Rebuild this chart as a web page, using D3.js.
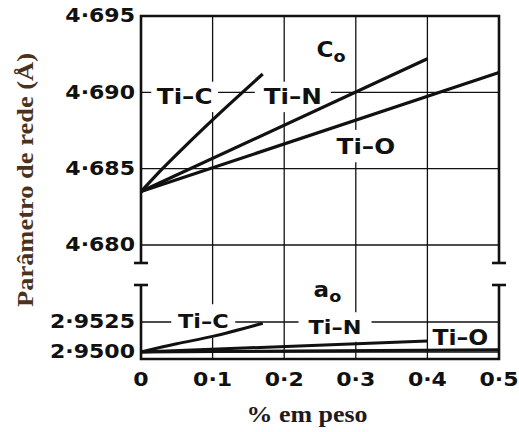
<!DOCTYPE html>
<html>
<head>
<meta charset="utf-8">
<script src="https://cdn.jsdelivr.net/npm/d3@7"></script>
<style>
  body { margin: 0; background: #fff; }
  svg { display: block; }
</style>
</head>
<body>
<div id="chart"></div>
<script>
// x axis: % em peso
const xTicks = [0, 0.1, 0.2, 0.3, 0.4, 0.5];
const xTickLabels = ["0", "0·1", "0·2", "0·3", "0·4", "0·5"];

// upper panel (c0)
const cTicks = [4.680, 4.685, 4.690, 4.695];
const cTickLabels = ["4·680", "4·685", "4·690", "4·695"];
const cTiC = [[0, 4.6835], [0.03, 4.6850], [0.06, 4.6864], [0.1, 4.6882], [0.17, 4.6912]];
const cTiN = [[0, 4.6835], [0.4, 4.6922]];
const cTiO = [[0, 4.6835], [0.5, 4.6913]];

// lower panel (a0)
const aTicks = [2.9500, 2.9525];
const aTickLabels = ["2·9500", "2·9525"];
const aTiC = [[0, 2.9500], [0.05, 2.95068], [0.1, 2.9513], [0.17, 2.9524]];
const aTiN = [[0, 2.9500], [0.4, 2.95092]];
const aTiO = [[0, 2.9500], [0.5, 2.95018]];

const W = 519, H = 432;
const ink = "#111";
const tickFont = "DejaVu Sans, sans-serif";

const svg = d3.select("#chart").append("svg")
  .attr("width", W).attr("height", H);

const x = d3.scaleLinear().domain([0, 0.5]).range([141, 499]);
const yc = d3.scaleLinear().domain([4.680, 4.695]).range([245, 16]);
const ya = d3.scaleLinear().domain([2.9500, 2.9525]).range([352, 322]);

const yTop = 16, upperBottom = 263, lowerTop = 285, yBottom = 359;
const xLeft = x(0), xRight = x(0.5);

// gridlines
const grid = svg.append("g").attr("stroke", ink).attr("stroke-width", 1.3);
grid.selectAll(".vg").data(xTicks.slice(1, -1)).enter().append("line")
  .attr("x1", d => x(d)).attr("x2", d => x(d))
  .attr("y1", yTop).attr("y2", yBottom);
grid.selectAll(".hc").data(cTicks.slice(0, -1)).enter().append("line")
  .attr("x1", xLeft).attr("x2", xRight)
  .attr("y1", d => yc(d)).attr("y2", d => yc(d));
grid.selectAll(".ha").data(aTicks).enter().append("line")
  .attr("x1", xLeft).attr("x2", xRight)
  .attr("y1", d => ya(d)).attr("y2", d => ya(d));

// labels placed in data space: [text, x, value, panel, size, pad]
const labels = [
  ["Ti–C", 0.061, 4.6897, "c", 22, [5, 4]],
  ["Ti–N", 0.212, 4.6897, "c", 22, [8, 4]],
  ["Ti–O", 0.314, 4.68648, "c", 22, [5, 5]],
  ["Ti–C", 0.087, 2.95258, "a", 20, [6, 7]],
  ["Ti–N", 0.271, 2.95208, "a", 20, [9, 5]],
  ["Ti–O", 0.446, 2.95121, "a", 21, [3, 2]],
];

const labelG = svg.append("g");
const labelNodes = labelG.selectAll("g").data(labels).enter().append("g")
  .attr("transform", d => {
    const py = d[3] === "c" ? yc(d[2]) : ya(d[2]);
    return `translate(${x(d[1])},${py}) scale(1.12,1)`;
  });
labelNodes.append("text")
  .attr("text-anchor", "middle")
  .attr("dominant-baseline", "central")
  .attr("font-family", tickFont)
  .attr("font-weight", "bold")
  .attr("font-size", d => d[4])
  .attr("fill", ink)
  .text(d => d[0]);
labelNodes.each(function (d) {
  const b = d3.select(this).select("text").node().getBBox();
  d3.select(this).insert("rect", "text")
    .attr("x", b.x - d[5][0]).attr("y", b.y + 2 - d[5][1])
    .attr("width", b.width + 2 * d[5][0]).attr("height", b.height - 4 + 2 * d[5][1])
    .attr("fill", "#fff");
});

// curves
const lineC = d3.line().x(d => x(d[0])).y(d => yc(d[1])).curve(d3.curveMonotoneX);
const lineA = d3.line().x(d => x(d[0])).y(d => ya(d[1])).curve(d3.curveMonotoneX);
const curves = svg.append("g").attr("fill", "none").attr("stroke", ink)
  .attr("stroke-width", 3.2).attr("stroke-linecap", "butt");
[cTiC, cTiN, cTiO].forEach(s => curves.append("path").attr("d", lineC(s)));
[aTiC, aTiN, aTiO].forEach(s => curves.append("path").attr("d", lineA(s)).attr("stroke-width", 3));

// frame with axis breaks
const frame = svg.append("g").attr("stroke", ink).attr("stroke-width", 2.6).attr("fill", "none");
frame.append("path").attr("d", `M${xLeft},${upperBottom}V${yTop}H${xRight}V${upperBottom}`);
frame.append("path").attr("d", `M${xLeft},${lowerTop}V${yBottom}H${xRight}V${lowerTop}`);
[xLeft, xRight].forEach(px => {
  [upperBottom, lowerTop].forEach(py => {
    frame.append("line").attr("x1", px - 7).attr("x2", px + 7)
      .attr("y1", py).attr("y2", py);
  });
});

// tick labels
const tickText = (g, px, py, anchor, txt) => {
  g.append("g").attr("transform", `translate(${px},${py}) scale(1.16,1)`)
    .append("text")
    .attr("text-anchor", anchor)
    .attr("dominant-baseline", "central")
    .attr("font-family", tickFont).attr("font-weight", "bold")
    .attr("font-size", 19).attr("fill", ink)
    .text(txt);
};
const ticks = svg.append("g");
cTicks.forEach((v, i) => tickText(ticks, 135, yc(v), "end", cTickLabels[i]));
aTicks.forEach((v, i) => tickText(ticks, 135, ya(v), "end", aTickLabels[i]));
xTicks.forEach((v, i) => tickText(ticks, x(v), 380, "middle", xTickLabels[i]));

// panel names c0 / a0
const sub = (px, py, main) => {
  const t = svg.append("g").attr("transform", `translate(${px},${py}) scale(1.1,1)`)
    .append("text").attr("font-family", tickFont).attr("font-weight", "bold")
    .attr("font-size", 21).attr("fill", ink);
  t.append("tspan").text(main);
  t.append("tspan").attr("dy", 5).attr("font-size", 16).text("o");
};
sub(x(0.245), yc(4.6923), "C");
sub(x(0.241), ya(2.9546), "a");

// axis titles
svg.append("text")
  .attr("transform", "translate(33,180) rotate(-90)")
  .attr("text-anchor", "middle")
  .attr("font-family", "Liberation Serif, serif").attr("font-weight", "bold")
  .attr("font-size", 23).attr("fill", "#4a321c")
  .attr("textLength", 254).attr("lengthAdjust", "spacingAndGlyphs")
  .text("Parâmetro de rede (Å)");
svg.append("text")
  .attr("x", 307).attr("y", 422)
  .attr("text-anchor", "middle")
  .attr("font-family", "Liberation Serif, serif").attr("font-weight", "bold")
  .attr("font-size", 23).attr("fill", "#1e1a20")
  .attr("textLength", 121).attr("lengthAdjust", "spacingAndGlyphs")
  .text("% em peso");
</script>
</body>
</html>
